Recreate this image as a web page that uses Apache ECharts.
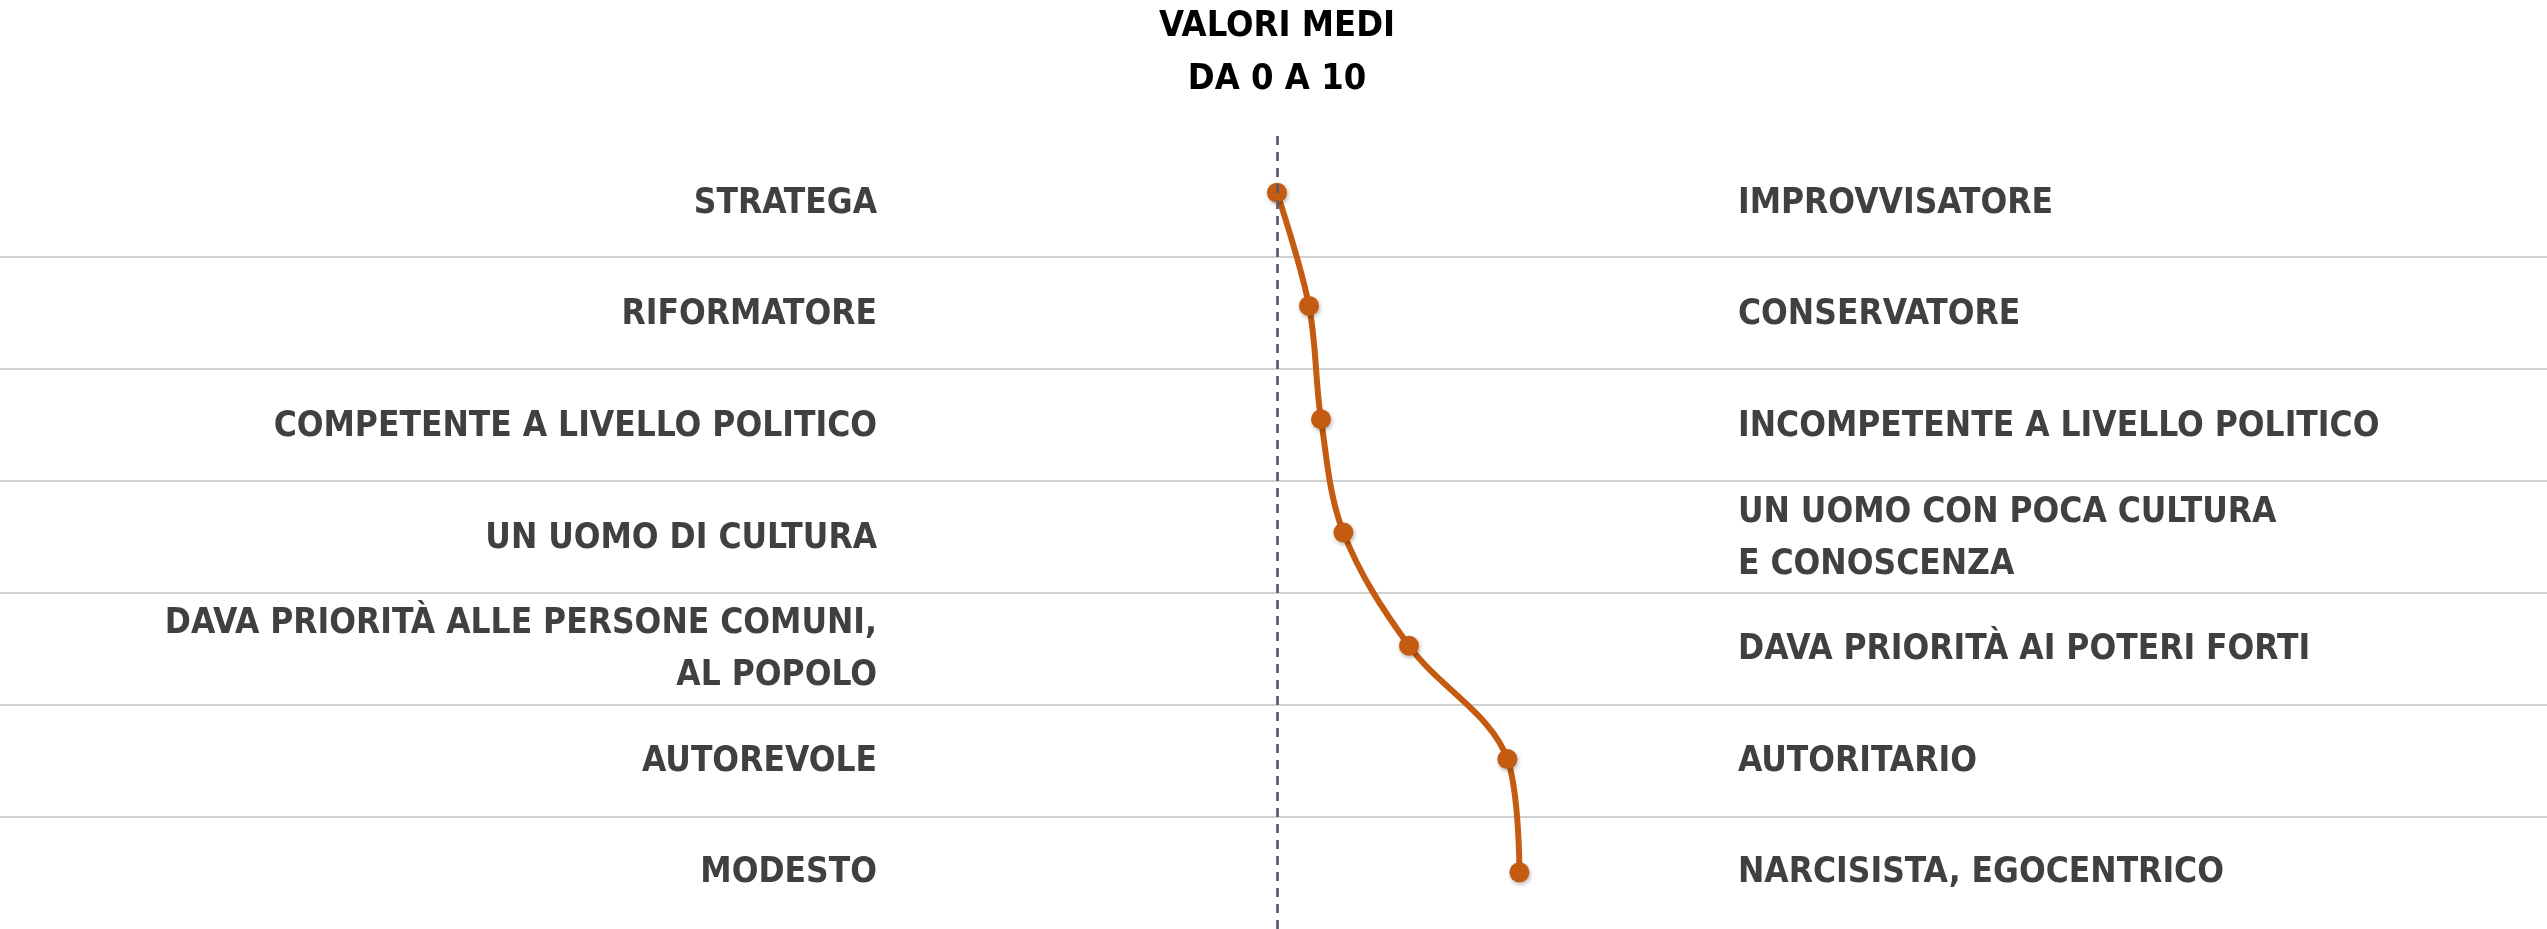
<!DOCTYPE html>
<html>
<head>
<meta charset="utf-8">
<title>Valori medi</title>
<script src="https://cdn.jsdelivr.net/npm/echarts@6/dist/echarts.min.js"></script>
<style>
html,body{
    margin:0;
    padding:0;
    background:#fff;
}
#chart{
    width:2547px;
    height:929px;
}
</style>
</head>
<body>
<div id="chart"></div>
<script>
// coppie di aggettivi (sinistra = 0, destra = 10)
var leftLabels = ['STRATEGA','RIFORMATORE','COMPETENTE A LIVELLO POLITICO','UN UOMO DI CULTURA','DAVA PRIORITÀ ALLE PERSONE COMUNI,\nAL POPOLO','AUTOREVOLE','MODESTO']
var rightLabels = ['IMPROVVISATORE','CONSERVATORE','INCOMPETENTE A LIVELLO POLITICO','UN UOMO CON POCA CULTURA\nE CONOSCENZA','DAVA PRIORITÀ AI POTERI FORTI','AUTORITARIO','NARCISISTA, EGOCENTRICO']
// valori medi da 0 a 10
var values = [5.0, 5.4, 5.55, 5.83, 6.65, 7.88, 8.03]
var midValue = 5
var titleText = 'VALORI MEDI\nDA 0 A 10'

var font = "'DejaVu Sans Condensed', 'DejaVu Sans', sans-serif"
var orange = '#C55A11'

var myChart = echarts.init(document.getElementById('chart'))

var option = {
    animation:false,
    graphic:[
        {
            type:'text',
            x:1277,
            y:0,
            style:{
                text:titleText,
                fill:'#000',
                font:'bold 36px ' + font,
                lineHeight:53,
                align:'center',
                verticalAlign:'top'
            }
        }
    ],
    grid:[
        // linea
        { left:877, width:800, top:136, height:796 },
        // righe separatrici
        { left:0, right:0, top:145, height:789 },
        // etichette
        { left:889, right:821, top:148, height:789 }
    ],
    xAxis:[
        { gridIndex:0, type:'value', min:0, max:10, show:false },
        { gridIndex:1, type:'value', min:0, max:10, show:false },
        { gridIndex:2, type:'value', min:0, max:10, show:false }
    ],
    yAxis:[
        {
            gridIndex:0,
            type:'category',
            inverse:true,
            data:leftLabels,
            show:false
        },
        {
            gridIndex:1,
            type:'category',
            inverse:true,
            data:leftLabels,
            axisLine:{show:false},
            axisTick:{show:false},
            axisLabel:{show:false},
            splitLine:{
                show:true,
                showMinLine:false,
                showMaxLine:false,
                lineStyle:{
                    color:'#d0d0d0',
                    width:2
                }
            }
        },
        {
            gridIndex:2,
            type:'category',
            inverse:true,
            position:'left',
            data:leftLabels,
            axisLine:{show:false},
            axisTick:{show:false},
            splitLine:{show:false},
            axisLabel:{
                margin:12,
                color:'#404040',
                fontFamily:font,
                fontWeight:'bold',
                fontSize:35,
                lineHeight:52,
                align:'right'
            }
        },
        {
            gridIndex:2,
            type:'category',
            inverse:true,
            position:'right',
            data:rightLabels,
            axisLine:{show:false},
            axisTick:{show:false},
            splitLine:{show:false},
            axisLabel:{
                margin:12,
                color:'#404040',
                fontFamily:font,
                fontWeight:'bold',
                fontSize:35,
                lineHeight:52,
                align:'left'
            }
        }
    ],
    series:[
        {
            name:'valori medi',
            type:'line',
            xAxisIndex:0,
            yAxisIndex:0,
            smooth:0.35,
            symbol:'circle',
            symbolSize:20,
            lineStyle:{
                color:orange,
                width:6
            },
            itemStyle:{
                color:orange,
                shadowColor:'rgba(0,0,0,0.3)',
                shadowBlur:4,
                shadowOffsetX:1,
                shadowOffsetY:2
            },
            markLine:{
                silent:true,
                symbol:'none',
                label:{show:false},
                lineStyle:{
                    color:'#5d5870',
                    width:2.7,
                    type:[9,7]
                },
                data:[{ xAxis:midValue }]
            },
            data:values
        }
    ]
}

myChart.setOption(option)
</script>
</body>
</html>
